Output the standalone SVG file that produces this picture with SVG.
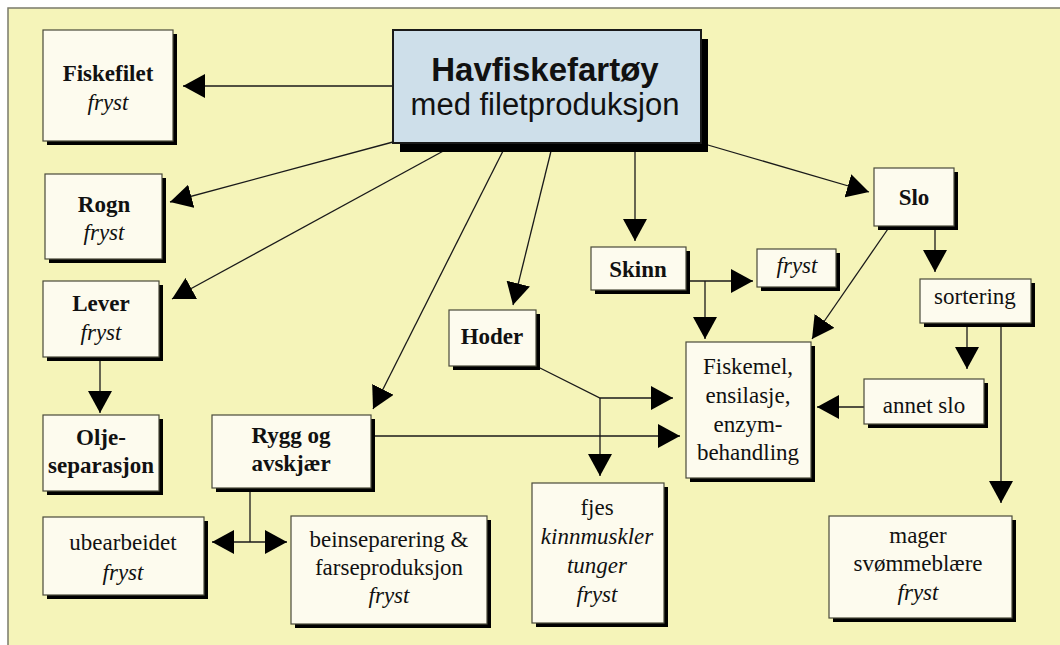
<svg xmlns="http://www.w3.org/2000/svg" width="1060" height="645" viewBox="0 0 1060 645">
<style>
.frame{fill:#F5F4B9;stroke:#7a7a6a;stroke-width:1.5}
.box{fill:#FDFBEE;stroke:#4a4a3a;stroke-width:1.2}
.sh{fill:#000}
.main{fill:#CEDFEA;stroke:#1a1a1a;stroke-width:2}
.t{font-family:"Liberation Serif","Times New Roman",serif;font-size:23px;fill:#111;text-anchor:middle}
.b{font-weight:bold}
.i{font-style:italic}
.title{font-family:"Liberation Sans",Arial,sans-serif;fill:#111;text-anchor:middle}
.c{fill:none;stroke:#1a1a1a;stroke-width:1.3}
.a{marker-end:url(#ah)}
</style>
<defs>
<marker id="ah" viewBox="0 0 22 24" refX="22" refY="12" markerWidth="22" markerHeight="24" markerUnits="userSpaceOnUse" orient="auto-start-reverse">
<path d="M0,0 L22,12 L0,24 Z" fill="#000"/>
</marker>
</defs>
<rect class="frame" x="8" y="8" width="1060" height="645"/>
<g id="connectors">
<path class="c a" d="M393,86 L183,86"/>
<path class="c a" d="M393,142 L170,202"/>
<path class="c a" d="M458,143 L172,299"/>
<path class="c a" d="M507,143 L373,409"/>
<path class="c a" d="M553,143 L513,305"/>
<path class="c a" d="M635,143 L635,241"/>
<path class="c a" d="M701,143 L869,192"/>
<path class="c a" d="M686,281 L753,281"/>
<path class="c a" d="M705,281 L705,339"/>
<path class="c a" d="M890,226 L812,339"/>
<path class="c a" d="M935,226 L935,272"/>
<path class="c a" d="M967,323 L967,369"/>
<path class="c a" d="M1001,323 L1001,503"/>
<path class="c a" d="M864,407 L817,407"/>
<path class="c a" d="M536,366 L600,398 L673,398"/>
<path class="c a" d="M600,398 L600,476"/>
<path class="c a" d="M371,436 L680,436"/>
<path class="c a" d="M100,357 L100,413"/>
<path class="c" d="M250,488 L250,542"/>
<path class="c a" d="M212,542 L287,542" marker-start="url(#ah)"/>
</g>
<g id="havfiskefartoy">
<rect class="sh" x="400" y="39" width="308" height="113"/>
<rect class="main" x="393" y="30" width="308" height="113"/>
<text class="title" x="545" y="81" font-size="33" font-weight="bold">Havfiskefartøy</text>
<text class="title" x="545" y="115" font-size="31">med filetproduksjon</text>
</g>
<g id="fiskefilet">
<rect class="sh" x="47" y="34" width="130" height="111"/>
<rect class="box" x="43" y="30" width="130" height="111"/>
<text class="t b" x="108" y="81">Fiskefilet</text>
<text class="t i" x="108" y="110">fryst</text>
</g>
<g id="rogn">
<rect class="sh" x="49" y="178" width="117" height="85"/>
<rect class="box" x="45" y="174" width="117" height="85"/>
<text class="t b" x="104" y="212">Rogn</text>
<text class="t i" x="104" y="240">fryst</text>
</g>
<g id="lever">
<rect class="sh" x="47" y="285" width="116" height="76"/>
<rect class="box" x="43" y="281" width="116" height="76"/>
<text class="t b" x="101" y="311">Lever</text>
<text class="t i" x="101" y="340">fryst</text>
</g>
<g id="oljeseparasjon">
<rect class="sh" x="47" y="419" width="116" height="76"/>
<rect class="box" x="43" y="415" width="116" height="76"/>
<text class="t b" x="101" y="445">Olje-</text>
<text class="t b" x="101" y="473">separasjon</text>
</g>
<g id="rygg">
<rect class="sh" x="216" y="419" width="159" height="73"/>
<rect class="box" x="212" y="415" width="159" height="73"/>
<text class="t b" x="291" y="443">Rygg og</text>
<text class="t b" x="291" y="471">avskjær</text>
</g>
<g id="ubearbeidet">
<rect class="sh" x="47" y="521" width="161" height="78"/>
<rect class="box" x="43" y="517" width="161" height="78"/>
<text class="t" x="123" y="550">ubearbeidet</text>
<text class="t i" x="123" y="580">fryst</text>
</g>
<g id="beinseparering">
<rect class="sh" x="295" y="520" width="196" height="108"/>
<rect class="box" x="291" y="516" width="196" height="108"/>
<text class="t" x="389" y="547">beinseparering &amp;</text>
<text class="t" x="389" y="575">farseproduksjon</text>
<text class="t i" x="389" y="603">fryst</text>
</g>
<g id="hoder">
<rect class="sh" x="453" y="314" width="87" height="56"/>
<rect class="box" x="449" y="310" width="87" height="56"/>
<text class="t b" x="492" y="344">Hoder</text>
</g>
<g id="skinn">
<rect class="sh" x="595" y="251" width="95" height="43"/>
<rect class="box" x="591" y="247" width="95" height="43"/>
<text class="t b" x="638" y="277">Skinn</text>
</g>
<g id="skinn-fryst">
<rect class="sh" x="761" y="253" width="79" height="38"/>
<rect class="box" x="757" y="249" width="79" height="38"/>
<text class="t i" x="797" y="273">fryst</text>
</g>
<g id="slo">
<rect class="sh" x="878" y="172" width="80" height="58"/>
<rect class="box" x="874" y="168" width="80" height="58"/>
<text class="t b" x="914" y="205">Slo</text>
</g>
<g id="sortering">
<rect class="sh" x="924" y="283" width="111" height="44"/>
<rect class="box" x="920" y="279" width="111" height="44"/>
<text class="t" x="975" y="304">sortering</text>
</g>
<g id="fiskemel">
<rect class="sh" x="690" y="346" width="125" height="136"/>
<rect class="box" x="686" y="342" width="125" height="136"/>
<text class="t" x="748" y="374">Fiskemel,</text>
<text class="t" x="748" y="403">ensilasje,</text>
<text class="t" x="748" y="432">enzym-</text>
<text class="t" x="748" y="460">behandling</text>
</g>
<g id="annet-slo">
<rect class="sh" x="868" y="383" width="120" height="45"/>
<rect class="box" x="864" y="379" width="120" height="45"/>
<text class="t" x="924" y="413">annet slo</text>
</g>
<g id="fjes">
<rect class="sh" x="536" y="487" width="132" height="140"/>
<rect class="box" x="532" y="483" width="132" height="140"/>
<text class="t" x="597" y="515">fjes</text>
<text class="t i" x="597" y="544">kinnmuskler</text>
<text class="t i" x="597" y="573">tunger</text>
<text class="t i" x="597" y="602">fryst</text>
</g>
<g id="mager">
<rect class="sh" x="833" y="520" width="183" height="102"/>
<rect class="box" x="829" y="516" width="183" height="102"/>
<text class="t" x="918" y="543">mager</text>
<text class="t" x="918" y="571">svømmeblære</text>
<text class="t i" x="918" y="600">fryst</text>
</g>
</svg>
